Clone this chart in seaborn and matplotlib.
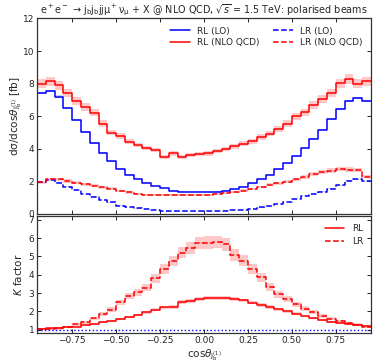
import numpy as np
import pandas as pd
import matplotlib
matplotlib.use("Agg")
import matplotlib.pyplot as plt
from matplotlib.lines import Line2D
import seaborn as sns

# ---- data ----
edges = np.round(np.arange(-0.95, 0.95 + 1e-9, 0.05), 3)
centers = 0.5 * (edges[:-1] + edges[1:])

rl_lo = [7.42, 7.56, 7.21, 6.52, 5.79, 5.04, 4.37, 3.76, 3.25, 2.78,
         2.42, 2.15, 1.93, 1.73, 1.59, 1.44, 1.38, 1.34, 1.34, 1.36,
         1.38, 1.44, 1.54, 1.68, 1.89, 2.13, 2.42, 2.74, 3.11, 3.53,
         4.02, 4.63, 5.18, 5.85, 6.46, 6.93, 7.13, 6.93]
rl_nlo = [8.00, 8.15, 7.90, 7.42, 6.93, 6.56, 6.22, 5.55, 5.00, 4.80,
          4.43, 4.23, 4.06, 3.92, 3.47, 3.72, 3.47, 3.62, 3.68, 3.72,
          3.88, 4.00, 4.15, 4.30, 4.47, 4.73, 4.94, 5.20, 5.55, 6.00,
          6.25, 6.70, 7.07, 7.42, 8.02, 8.29, 7.99, 8.15]
lr_lo = [1.95, 2.09, 1.93, 1.68, 1.48, 1.24, 1.07, 0.87, 0.71, 0.52,
         0.42, 0.34, 0.28, 0.24, 0.21, 0.19, 0.18, 0.17, 0.17, 0.17,
         0.18, 0.20, 0.22, 0.26, 0.32, 0.40, 0.50, 0.60, 0.75, 0.93,
         1.10, 1.24, 1.38, 1.55, 1.75, 2.05, 2.12, 2.00]
lr_nlo = [1.95, 2.13, 2.13, 2.03, 1.93, 1.83, 1.73, 1.64, 1.56, 1.42,
          1.32, 1.24, 1.18, 1.16, 1.14, 1.14, 1.14, 1.14, 1.16, 1.18,
          1.22, 1.28, 1.34, 1.44, 1.54, 1.66, 1.79, 1.89, 1.99, 2.13,
          2.29, 2.46, 2.58, 2.66, 2.76, 2.72, 2.70, 2.30]
k_rl = [1.07, 1.08, 1.09, 1.13, 1.18, 1.25, 1.33, 1.42, 1.50, 1.58,
        1.70, 1.80, 1.95, 2.10, 2.22, 2.25, 2.50, 2.55, 2.68, 2.73,
        2.75, 2.74, 2.70, 2.60, 2.48, 2.36, 2.25, 2.12, 2.00, 1.88,
        1.76, 1.63, 1.52, 1.44, 1.38, 1.32, 1.27, 1.22]
k_lr = [1.03, 1.05, 1.08, 1.15, 1.30, 1.42, 1.62, 1.85, 2.10, 2.50,
        2.85, 3.05, 3.30, 3.80, 4.30, 4.75, 5.20, 5.48, 5.72, 5.75,
        5.78, 5.65, 5.08, 4.77, 4.31, 3.86, 3.34, 2.93, 2.66, 2.38,
        2.16, 1.96, 1.77, 1.61, 1.46, 1.37, 1.28, 1.18]
# relative scale-uncertainty widths of the bands
unc_rl_nlo, unc_lr_nlo, unc_lo = 0.035, 0.05, 0.01
unc_k_rl, unc_k_lr = 0.04, 0.06

xticks = [-0.75, -0.50, -0.25, 0.00, 0.25, 0.50, 0.75]

# ---- style ----
sns.set_style("ticks")
plt.rcParams.update({
    "font.family": ["DejaVu Sans"],
    "xtick.direction": "in", "ytick.direction": "in",
    "xtick.top": True, "ytick.right": True,
    "xtick.labelsize": 6.5, "ytick.labelsize": 6.5,
    "axes.edgecolor": "#333333", "axes.linewidth": 0.9,
    "mathtext.fontset": "dejavusans",
})

RED, BLUE, PINK, LBLUE = "#ff0000", "#0000ff", "#ffc8c8", "#b0b0ff"
LW = 1.1

fig = plt.figure(figsize=(3.74, 3.63), dpi=100)
ax1 = fig.add_axes([0.099, 0.4105, 0.893, 0.5386])
ax2 = fig.add_axes([0.099, 0.0813, 0.893, 0.3237])


def band(ax, vals, rel, color, alpha=1.0):
    v = np.asarray(vals)
    lo = np.append(v * (1 - rel), v[-1] * (1 - rel))
    hi = np.append(v * (1 + rel), v[-1] * (1 + rel))
    ax.fill_between(edges, lo, hi, step="post", color=color, lw=0, alpha=alpha)


def step(ax, vals, color, ls="-"):
    df = pd.DataFrame({"x": centers, "w": np.asarray(vals, dtype=float)})
    sns.histplot(data=df, x="x", weights="w", bins=list(edges), element="step",
                 fill=False, color=color, linewidth=LW, linestyle=ls, ax=ax)


# top panel
band(ax1, rl_nlo, unc_rl_nlo, PINK)
band(ax1, lr_nlo, unc_lr_nlo, PINK)
band(ax1, rl_lo, unc_lo, LBLUE, 0.6)
band(ax1, lr_lo, unc_lo, LBLUE, 0.6)
step(ax1, rl_lo, BLUE, "-")
step(ax1, lr_lo, BLUE, "--")
step(ax1, rl_nlo, RED, "-")
step(ax1, lr_nlo, RED, "--")
ax1.set_xlim(-0.95, 0.95)
ax1.set_ylim(0, 12)
ax1.set_yticks([0, 2, 4, 6, 8, 10, 12])
ax1.set_xticks(xticks)
ax1.tick_params(labelbottom=False, length=3, width=0.7, pad=2)
ax1.set_xlabel("")
ax1.set_ylabel(r"d$\mathrm{\sigma}$/dcos$\theta_{\mathrm{j}_{\mathrm{b}}^{(1)}}$ [fb]", fontsize=7.5)
ax1.set_title(r"e$^+$e$^-$ → j$_\mathrm{b}$j$_\mathrm{b}$jj$\mathrm{\mu}^+\mathrm{\nu}_\mathrm{\mu}$ + X @ NLO QCD, $\sqrt{s}$ = 1.5 TeV: polarised beams",
              fontsize=6.9, pad=3)

h = [Line2D([], [], color=BLUE, lw=LW), Line2D([], [], color=RED, lw=LW),
     Line2D([], [], color=BLUE, lw=LW, ls="--"), Line2D([], [], color=RED, lw=LW, ls="--")]
ax1.legend(h, ["RL (LO)", "RL (NLO QCD)", "LR (LO)", "LR (NLO QCD)"], ncol=2,
           loc="upper right", frameon=False, fontsize=6.5, handlelength=2.2,
           handletextpad=0.8, columnspacing=1.5, borderaxespad=0.5,
           labelspacing=0.3)

# bottom panel
band(ax2, k_rl, unc_k_rl, PINK)
band(ax2, k_lr, unc_k_lr, PINK)
step(ax2, k_rl, RED, "-")
step(ax2, k_lr, RED, "--")
ax2.axhline(1.0, color=BLUE, ls=":", lw=1.0)
ax2.set_xlim(-0.95, 0.95)
ax2.set_ylim(0.8, 7.2)
ax2.set_yticks([1, 2, 3, 4, 5, 6, 7])
ax2.set_xticks(xticks)
ax2.set_xticklabels([f"{t:.2f}".replace("-", "\u2212") for t in xticks])
ax2.tick_params(length=3, width=0.7, pad=2)
ax2.set_xlabel(r"cos$\theta_{\mathrm{j}_{\mathrm{b}}^{(1)}}$", fontsize=7.5, labelpad=1)
ax2.set_ylabel(r"$K$ factor", fontsize=7.5)
h2 = [Line2D([], [], color=RED, lw=LW), Line2D([], [], color=RED, lw=LW, ls="--")]
ax2.legend(h2, ["RL", "LR"], loc="upper right", frameon=False, fontsize=6.5,
           handlelength=2.2, handletextpad=0.8, borderaxespad=0.5,
           labelspacing=0.4)

for ax in (ax1, ax2):
    ax.yaxis.set_label_coords(-0.04, 0.5)

fig.savefig("out.png", dpi=100)
